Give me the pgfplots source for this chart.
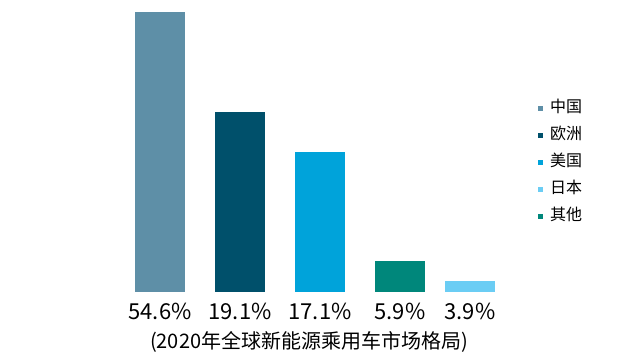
\documentclass[border=0pt]{standalone}
\usepackage{pgfplots}
\pgfplotsset{compat=1.18}
\usepackage{fontspec}
\setmainfont{Noto Sans CJK SC}
\definecolor{c1}{HTML}{5E8FA7}
\definecolor{c2}{HTML}{00506B}
\definecolor{c3}{HTML}{00A3DA}
\definecolor{c4}{HTML}{00877B}
\definecolor{c5}{HTML}{6BCDF4}
\begin{document}
\begin{tikzpicture}
\begin{axis}[
  scale only axis, width=626pt, height=360pt,
  xmin=0, xmax=626, ymin=-68, ymax=292,
  hide axis, clip=false,
  ybar, bar width=50, bar shift=0pt,
  legend style={at={(axis cs:535,194)}, anchor=north west, draw=none, fill=none,
    font=\fontsize{16pt}{16pt}\selectfont, row sep=11pt,
    nodes={text height=12pt, text depth=4pt, inner sep=0pt},
    /tikz/every odd column/.append style={column sep=7pt}},
  legend cell align=left,
]
\path (axis cs:0,-68) rectangle (axis cs:626,292);
\addplot[fill=c1, draw=none, legend image code/.code={\fill[c1] (0pt,-2.5pt) rectangle (5pt,2.5pt);}] coordinates {(160,280)};
\addlegendentry{中国}
\addplot[fill=c2, draw=none, legend image code/.code={\fill[c2] (0pt,-2.5pt) rectangle (5pt,2.5pt);}] coordinates {(240,180)};
\addlegendentry{欧洲}
\addplot[fill=c3, draw=none, legend image code/.code={\fill[c3] (0pt,-2.5pt) rectangle (5pt,2.5pt);}] coordinates {(320,140)};
\addlegendentry{美国}
\addplot[fill=c5, draw=none, legend image code/.code={\fill[c5] (0pt,-2.5pt) rectangle (5pt,2.5pt);}] coordinates {(470,11)};
\addlegendentry{日本}
\addplot[fill=c4, draw=none, legend image code/.code={\fill[c4] (0pt,-2.5pt) rectangle (5pt,2.5pt);}] coordinates {(400,31)};
\addlegendentry{其他}
\foreach \x/\l in {160/54.6\%, 240/19.1\%, 320/17.1\%, 400/5.9\%, 470/3.9\%}{
  \edef\temp{\noexpand\node[font=\noexpand\fontsize{22pt}{22pt}\noexpand\selectfont, inner sep=0pt] at (axis cs:\x,-19) {\l};}
  \temp
}
\node[font=\fontsize{20pt}{20pt}\selectfont, inner sep=0pt] at (axis cs:309,-50) {(2020年全球新能源乘用车市场格局)};
\end{axis}
\end{tikzpicture}
\end{document}
